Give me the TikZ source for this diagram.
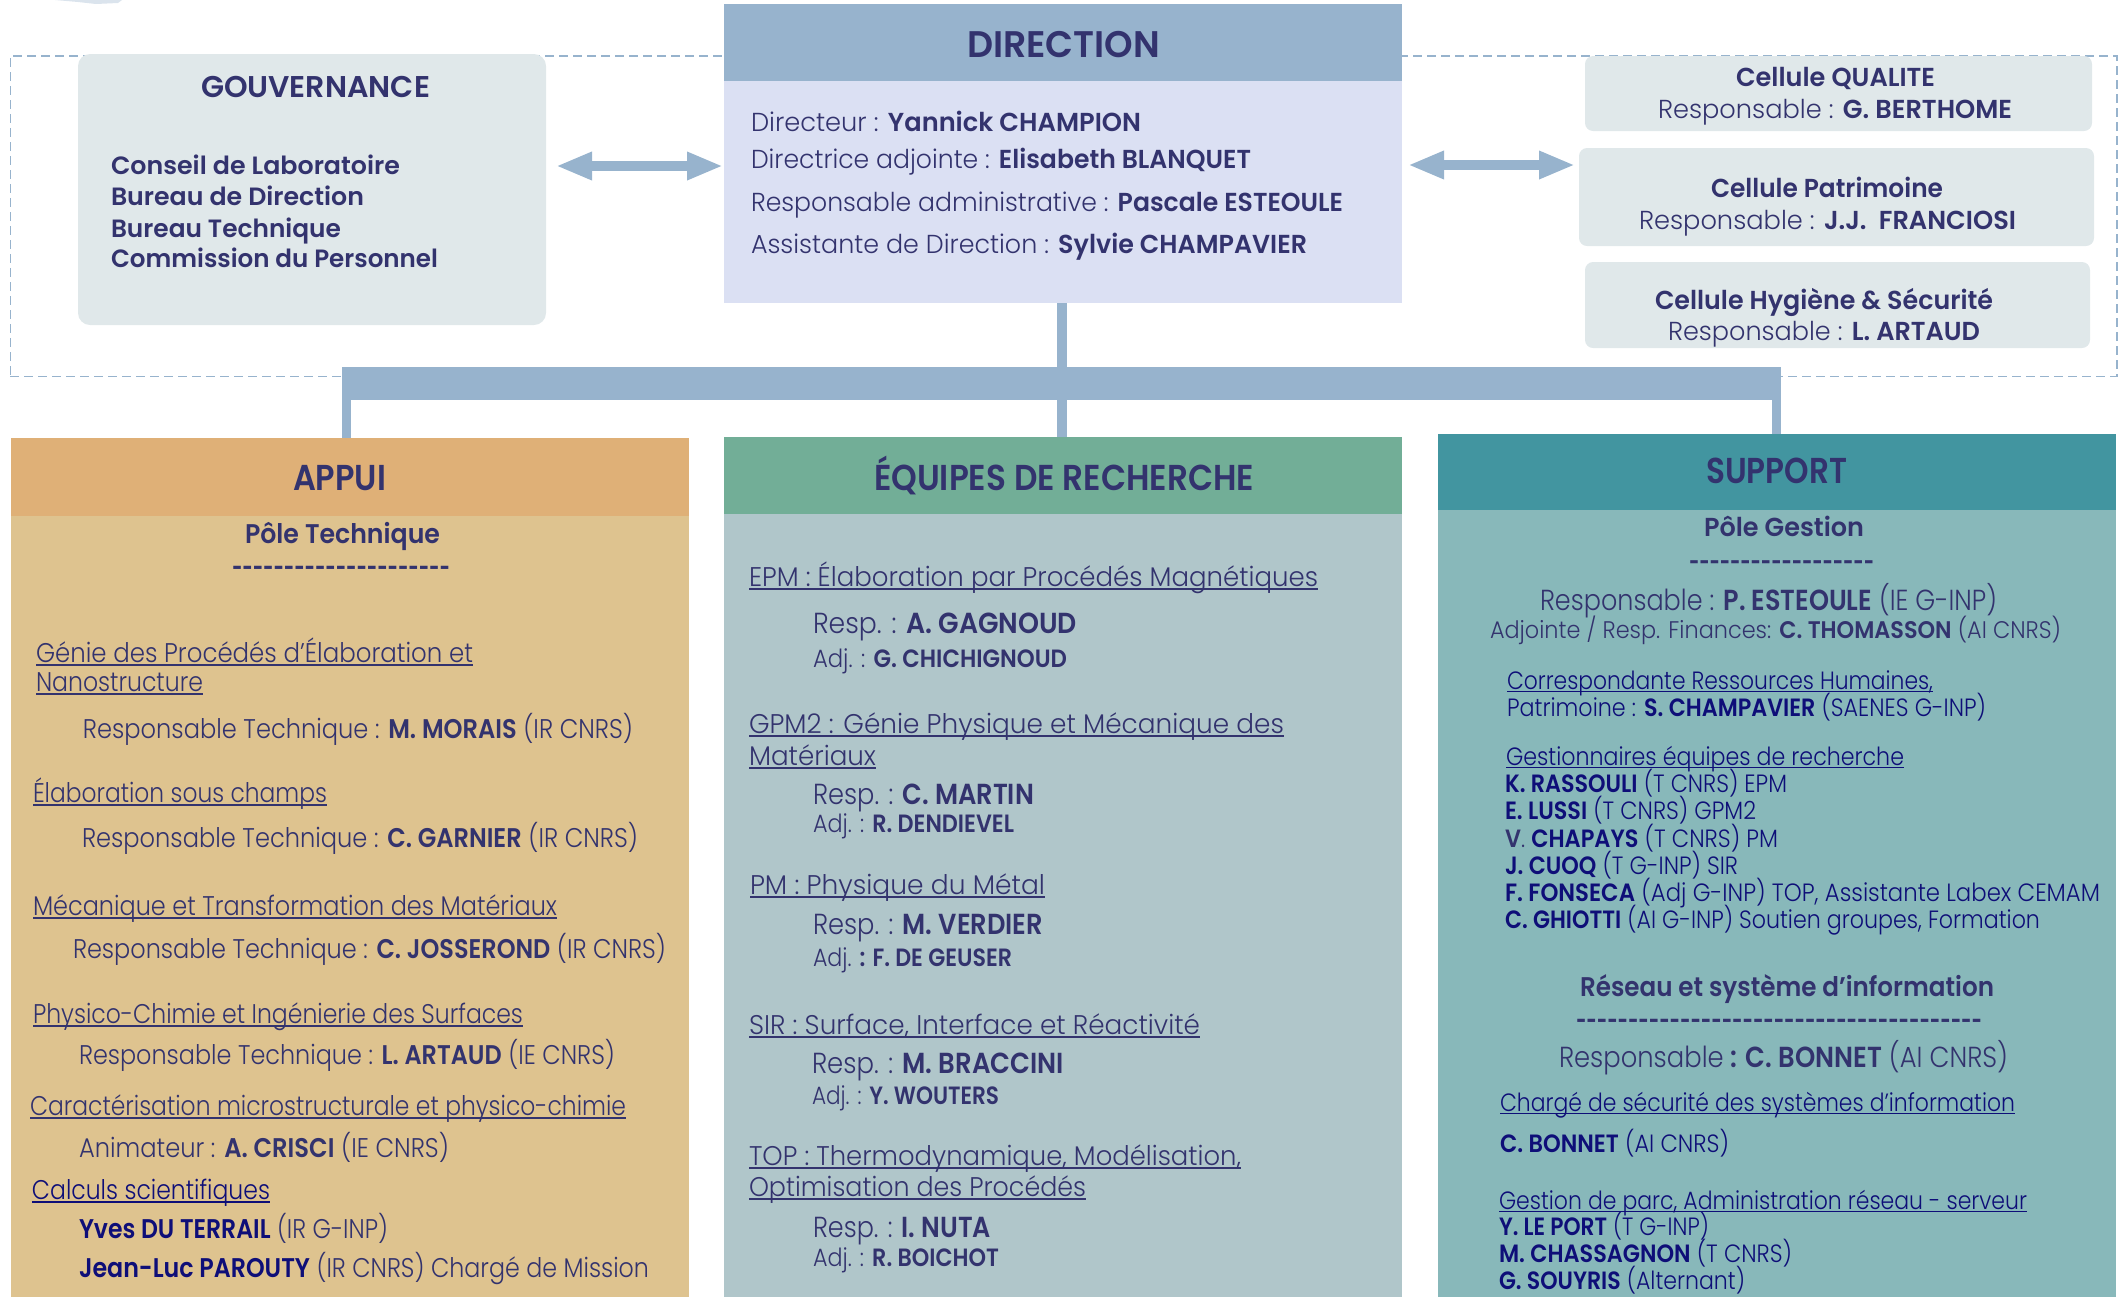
\documentclass[tikz,border=0pt]{standalone}
\usepackage{graphicx}
\usepackage{fontspec}
\setmainfont{Poppins}[UprightFont=* Light,BoldFont=* SemiBold]
\usetikzlibrary{arrows.meta}
\definecolor{ink}{HTML}{33336E}
\definecolor{navy}{HTML}{0E0E78}
\definecolor{cdirh}{HTML}{97B3CD}
\definecolor{cdirb}{HTML}{DBE0F3}
\definecolor{cgov}{HTML}{E0E8EA}
\definecolor{capph}{HTML}{DFB077}
\definecolor{cappb}{HTML}{DEC38F}
\definecolor{ceqh}{HTML}{72AE97}
\definecolor{ceqb}{HTML}{B0C6CA}
\definecolor{csuph}{HTML}{4295A0}
\definecolor{csupb}{HTML}{88B8BA}
\newsavebox\fitbox
\newsavebox\ulbox
\newlength\fitdim
\newcommand\bo[1]{\textbf{#1}}
\newcommand\nv[1]{\textbf{\color{navy}#1}}
\newcommand\undl[1]{\sbox\ulbox{#1}\rlap{\rule[-0.13em]{\wd\ulbox}{0.06em}}\usebox\ulbox}
\newcommand\dsh{-{}}
\newcommand\fitted[3]{% width px, size px, content
  \pgfmathsetmacro\fs{#2*0.5}%
  \fontsize{\fs pt}{\fs pt}\selectfont
  \sbox\fitbox{#3}%
  \setlength\fitdim{\wd\fitbox}%
  \pgfmathsetmacro\fr{(#1)*0.5/\the\fitdim}%
  \scalebox{\fr}[1]{\usebox\fitbox}}
\newcommand\lbl[6]{% name, x, baseline y, x end, size px, content
  \node[txt] (#1) at (#2,#3) {\fitted{#4-#2}{#5}{#6}};}
\newcommand\bx[6]{% name, x1, y1, x2, y2, style
  \pgfmathsetmacro\bw{(#4-#2)*0.5}%
  \pgfmathsetmacro\bh{(#5-#3)*0.5}%
  \node[#6,minimum width=\bw pt,minimum height=\bh pt,anchor=north west] (#1) at (#2,#3) {};}
\tikzset{
  txt/.style={inner sep=0pt,outer sep=0pt,anchor=base west,text=ink},
  flat/.style={rectangle,inner sep=0pt,outer sep=0pt,draw=none,fill=#1},
  soft/.style={rectangle,rounded corners=#1,inner sep=0pt,outer sep=0pt,draw=none,fill=cgov},
  stem/.style={draw=cdirh,line cap=butt},
  dbl/.style={draw=cdirh,line width=5.2pt,{Triangle[length=18pt,width=13pt]}-{Triangle[length=18pt,width=13pt]}},
  framebox/.style={rectangle,inner sep=0pt,draw=cdirh,line width=0.8pt,dash pattern=on 4.5pt off 2.5pt}
}
\begin{document}
\begin{tikzpicture}[x=0.5pt,y=-0.5pt]
\useasboundingbox (0,0) rectangle (2123,1297);
\fill[cdirh!35!white] (55,0) -- (122,0) -- (118,3) -- (96,4) -- (78,2) -- cycle;
\bx{frame}{9.5}{55}{2116}{375.5}{framebox}
% boxes
\bx{gov}{78}{54}{546}{325}{soft=6pt}
\bx{dirB}{724}{81}{1402}{303}{flat=cdirb}
\bx{dirH}{724}{4}{1402}{81}{flat=cdirh}
\bx{cq}{1585}{56}{2092}{131}{soft=4pt}
\bx{cp}{1579}{148}{2094}{246}{soft=4pt}
\bx{ch}{1585}{262}{2090}{348}{soft=4pt}
\bx{bar}{342}{367}{1781}{400}{flat=cdirh}
\bx{appB}{11}{516}{689}{1297}{flat=cappb}
\bx{appH}{11}{438}{689}{516}{flat=capph}
\bx{eqB}{724}{514}{1402}{1297}{flat=ceqb}
\bx{eqH}{724}{437}{1402}{514}{flat=ceqh}
\bx{supB}{1438}{510}{2116}{1297}{flat=csupb}
\bx{supH}{1438}{434}{2116}{510}{flat=csuph}
% connectors
\coordinate (sTop) at (1062,303);
\coordinate (sMid) at (1062,400);
\coordinate (sL) at (346.5,400);
\coordinate (sR) at (1776.5,400);
\draw[stem,line width=5pt] (sTop) -- (sTop |- bar.north);
\draw[stem,line width=5pt] (sMid) -- (sMid |- eqH.north);
\draw[stem,line width=4.5pt] (sL) -- (sL |- appH.north);
\draw[stem,line width=4.5pt] (sR) -- (sR |- supH.north);
\coordinate (aL1) at (556,166);
\coordinate (aL2) at (723,166);
\coordinate (aR1) at (1408,165);
\coordinate (aR2) at (1575,165);
\draw[dbl] (aL1) -- (aL2);
\draw[dbl] (aR1) -- (aR2);
% top
\lbl{tDir}{967}{57}{1160}{37}{\bo{DIRECTION}}
\lbl{tGov}{201}{97}{430}{30}{\bo{GOUVERNANCE}}
\lbl{g1}{111}{174}{400}{25}{\bo{Conseil de Laboratoire}}
\lbl{g2}{111}{205}{364}{25}{\bo{Bureau de Direction}}
\lbl{g3}{111}{237}{341}{25}{\bo{Bureau Technique}}
\lbl{g4}{111}{267}{438}{25}{\bo{Commission du Personnel}}
\lbl{d1}{751}{131}{1141}{26}{Directeur : \bo{Yannick CHAMPION}}
\lbl{d2}{751}{168}{1251}{26}{Directrice adjointe : \bo{Elisabeth BLANQUET}}
\lbl{d3}{751}{211}{1343}{26}{Responsable administrative : \bo{Pascale ESTEOULE}}
\lbl{d4}{751}{253}{1307}{26}{Assistante de Direction : \bo{Sylvie CHAMPAVIER}}
\lbl{q1}{1736}{86}{1935}{26}{\bo{Cellule QUALITE}}
\lbl{q2}{1658}{118}{2012}{26}{Responsable : \bo{G. BERTHOME}}
\lbl{p1}{1711}{197}{1943}{26}{\bo{Cellule Patrimoine}}
\lbl{p2}{1639}{229}{2016}{26}{Responsable : \bo{J.J.\ \ FRANCIOSI}}
\lbl{h1}{1655}{309}{1993}{26}{\bo{Cellule Hygiène \& Sécurité}}
\lbl{h2}{1668}{340}{1980}{26}{Responsable : \bo{L. ARTAUD}}
% appui
\lbl{tApp}{293}{490}{386}{36}{\bo{APPUI}}
\lbl{a0}{245}{543}{440}{27}{\bo{Pôle Technique}}
\lbl{a0d}{232}{577}{450}{27}{\bo{\dsh\dsh\dsh\dsh\dsh\dsh\dsh\dsh\dsh\dsh\dsh\dsh\dsh\dsh\dsh\dsh\dsh\dsh\dsh\dsh\dsh}}
\lbl{a1}{36}{662}{473}{27}{\undl{Génie des Procédés d’Élaboration et}}
\lbl{a1b}{36}{691}{203}{27}{\undl{Nanostructure}}
\lbl{a2}{83}{738}{633}{27}{Responsable Technique : \bo{M. MORAIS} (IR CNRS)}
\lbl{a3}{33}{802}{327}{27}{\undl{Élaboration sous champs}}
\lbl{a4}{82}{847}{638}{27}{Responsable Technique : \bo{C. GARNIER} (IR CNRS)}
\lbl{a5}{33}{915}{557}{27}{\undl{Mécanique et Transformation des Matériaux}}
\lbl{a6}{73}{958}{666}{27}{Responsable Technique : \bo{C. JOSSEROND} (IR CNRS)}
\lbl{a7}{33}{1023}{523}{27}{\undl{Physico-Chimie et Ingénierie des Surfaces}}
\lbl{a8}{79}{1064}{615}{27}{Responsable Technique : \bo{L. ARTAUD} (IE CNRS)}
\lbl{a9}{30}{1115}{626}{27}{\undl{Caractérisation microstructurale et physico-chimie}}
\lbl{a10}{79}{1157}{449}{27}{Animateur : \bo{A. CRISCI} (IE CNRS)}
\lbl{a11}{32}{1199}{270}{27}{\color{navy}\undl{Calculs scientifiques}}
\lbl{a12}{79}{1238}{388}{27}{\nv{Yves DU TERRAIL} (IR G-INP)}
\lbl{a13}{79}{1277}{649}{27}{\nv{Jean-Luc PAROUTY} (IR CNRS) Chargé de Mission}
% equipes
\lbl{tEq}{874}{490}{1254}{36}{\bo{ÉQUIPES DE RECHERCHE}}
\lbl{e1}{749}{586}{1318}{27}{\undl{EPM : Élaboration par Procédés Magnétiques}}
\lbl{e2}{813}{633}{1077}{29}{Resp. : \bo{A. GAGNOUD}}
\lbl{e3}{813}{667}{1067}{25}{Adj. : \bo{G. CHICHIGNOUD}}
\lbl{e4}{749}{733}{1284}{27}{\undl{GPM2 : Génie Physique et Mécanique des}}
\lbl{e4b}{749}{765}{876}{27}{\undl{Matériaux}}
\lbl{e5}{813}{804}{1034}{29}{Resp. : \bo{C. MARTIN}}
\lbl{e6}{813}{832}{1014}{25}{Adj. : \bo{R. DENDIEVEL}}
\lbl{e7}{750}{894}{1045}{27}{\undl{PM : Physique du Métal}}
\lbl{e8}{813}{934}{1043}{29}{Resp. : \bo{M. VERDIER}}
\lbl{e9}{813}{966}{1012}{25}{Adj. \bo{: F. DE GEUSER}}
\lbl{e10}{749}{1034}{1200}{27}{\undl{SIR : Surface, Interface et Réactivité}}
\lbl{e11}{812}{1073}{1064}{29}{Resp. : \bo{M. BRACCINI}}
\lbl{e12}{812}{1104}{999}{25}{Adj. : \bo{Y. WOUTERS}}
\lbl{e13}{749}{1165}{1241}{27}{\undl{TOP : Thermodynamique, Modélisation,}}
\lbl{e13b}{749}{1196}{1086}{27}{\undl{Optimisation des Procédés}}
\lbl{e14}{813}{1237}{991}{29}{Resp. : \bo{I. NUTA}}
\lbl{e15}{813}{1266}{999}{25}{Adj. : \bo{R. BOICHOT}}
% support
\lbl{tSup}{1706}{483}{1847}{36}{\bo{SUPPORT}}
\lbl{s0}{1704}{536}{1864}{26}{\bo{Pôle Gestion}}
\lbl{s0d}{1689}{571}{1874}{26}{\bo{\dsh\dsh\dsh\dsh\dsh\dsh\dsh\dsh\dsh\dsh\dsh\dsh\dsh\dsh\dsh\dsh\dsh\dsh}}
\lbl{s1}{1540}{610}{1997}{29}{Responsable : \bo{P. ESTEOULE} (IE G-INP)}
\lbl{s2}{1490}{638}{2061}{24}{Adjointe / Resp. Finances: \bo{C. THOMASSON} (AI CNRS)}
\lbl{s3}{1507}{689}{1933}{25}{\color{navy}\undl{Correspondante Ressources Humaines,}}
\lbl{s4}{1507}{716}{1986}{25}{\color{navy}Patrimoine : \nv{S. CHAMPAVIER} (SAENES G-INP)}
\lbl{s5}{1506}{765}{1904}{25}{\color{navy}\undl{Gestionnaires équipes de recherche}}
\lbl{s6}{1505}{792}{1787}{25}{\color{navy}\nv{K. RASSOULI} (T CNRS) EPM}
\lbl{s7}{1505}{819}{1756}{25}{\color{navy}\nv{E. LUSSI} (T CNRS) GPM2}
\lbl{s8}{1505}{847}{1778}{25}{\color{navy}\textcolor{ink}{\bo{V}.} \nv{CHAPAYS} (T CNRS) PM}
\lbl{s9}{1505}{874}{1738}{25}{\color{navy}\nv{J. CUOQ} (T G-INP) SIR}
\lbl{s10}{1505}{901}{2100}{25}{\color{navy}\nv{F. FONSECA} (Adj G-INP) TOP, Assistante Labex CEMAM}
\lbl{s11}{1505}{928}{2040}{25}{\color{navy}\nv{C. GHIOTTI} (AI G-INP) Soutien groupes, Formation}
\lbl{s12}{1580}{996}{1994}{27}{\bo{Réseau et système d'information}}
\lbl{s12d}{1576}{1030}{1982}{27}{\bo{\dsh\dsh\dsh\dsh\dsh\dsh\dsh\dsh\dsh\dsh\dsh\dsh\dsh\dsh\dsh\dsh\dsh\dsh\dsh\dsh\dsh\dsh\dsh\dsh\dsh\dsh\dsh\dsh\dsh\dsh\dsh\dsh\dsh\dsh\dsh\dsh\dsh\dsh\dsh}}
\lbl{s13}{1559}{1067}{2008}{29}{Responsable \bo{: C. BONNET} (AI CNRS)}
\lbl{s14}{1500}{1111}{2015}{25}{\color{navy}\undl{Chargé de sécurité des systèmes d’information}}
\lbl{s15}{1500}{1152}{1729}{25}{\color{navy}\nv{C. BONNET} (AI CNRS)}
\lbl{s16}{1499}{1209}{2027}{25}{\color{navy}\undl{Gestion de parc, Administration réseau - serveur}}
\lbl{s17}{1499}{1235}{1709}{25}{\color{navy}\nv{Y. LE PORT} (T G-INP)}
\lbl{s18}{1499}{1262}{1792}{25}{\color{navy}\nv{M. CHASSAGNON} (T CNRS)}
\lbl{s19}{1499}{1289}{1745}{25}{\color{navy}\nv{G. SOUYRIS} (Alternant)}
\end{tikzpicture}
\end{document}
